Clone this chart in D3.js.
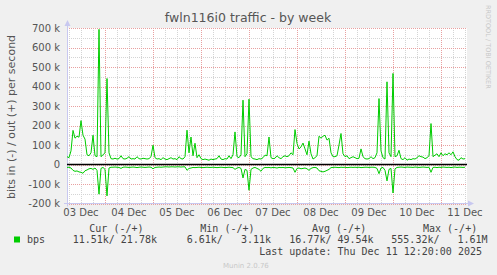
<html>
<script src="https://cdnjs.cloudflare.com/ajax/libs/d3/7.8.5/d3.min.js"></script>
<style>
body { margin: 0; background-color: #f0f0f0; }
text { font-family: "DejaVu Sans", sans-serif; }
.mono { font-family: "DejaVu Sans Mono", monospace; white-space: pre; }
</style>
<body>
<div id="output"></div>
<script>

// hourly samples starting Thu 03 Dec 05:00 (values in k bits/s)
var startHour = Date.UTC(2025, 11, 3, 5);
var outValues = [
  40, 35, 70, 175, 135, 145, 140, 225, 150, 130, 50, 45, 60, 150, 45, 40, 693, 40, 50, 60, 441, 60, 30, 28,
  32, 28, 30, 45, 30, 28, 32, 40, 28, 30, 28, 40, 30, 28, 32, 30, 28, 30, 40, 99, 35, 28, 30, 25,
  35, 28, 25, 30, 35, 28, 30, 25, 40, 30, 28, 40, 176, 60, 141, 45, 109, 35, 50, 30, 25, 28, 25, 22,
  28, 25, 28, 30, 45, 28, 25, 30, 28, 45, 30, 50, 167, 40, 35, 50, 330, 40, 55, 335, 40, 30, 28, 25,
  30, 28, 35, 48, 45, 141, 35, 30, 32, 45, 35, 30, 40, 45, 40, 45, 60, 50, 179, 108, 80, 90, 110, 80,
  50, 120, 55, 28, 35, 45, 145, 135, 145, 150, 125, 135, 60, 40, 40, 45, 100, 159, 55, 40, 45, 30, 35, 40,
  35, 30, 32, 80, 40, 30, 28, 30, 40, 30, 35, 60, 338, 70, 35, 28, 424, 60, 40, 467, 40, 45, 73, 30,
  25, 35, 22, 28, 25, 30, 28, 35, 45, 40, 38, 30, 35, 45, 210, 40, 48, 55, 40, 60, 45, 55, 50, 60,
  50, 65, 40, 25, 22, 35, 28, 30
];
var inValues = [
  15, 14, 18, 30, 35, 33, 38, 40, 45, 32, 28, 22, 20, 25, 18, 30, 152, 20, 15, 25, 161, 18, 14, 14,
  13, 14, 15, 20, 14, 13, 14, 15, 14, 13, 14, 16, 14, 13, 14, 15, 14, 13, 14, 22, 15, 14, 13, 14,
  13, 12, 12, 13, 12, 12, 13, 12, 12, 13, 12, 12, 30, 20, 18, 15, 16, 15, 14, 15, 16, 15, 14, 15,
  15, 14, 15, 16, 15, 14, 15, 16, 15, 14, 15, 16, 25, 18, 15, 20, 69, 25, 30, 132, 25, 18, 15, 20,
  25, 35, 20, 15, 16, 15, 17, 15, 16, 18, 15, 16, 15, 17, 16, 15, 16, 18, 40, 20, 18, 22, 20, 18,
  22, 30, 20, 16, 15, 18, 32, 35, 38, 35, 30, 25, 16, 15, 14, 15, 16, 14, 15, 14, 16, 15, 14, 15,
  14, 15, 14, 16, 15, 14, 14, 15, 14, 14, 15, 20, 47, 18, 15, 30, 84, 25, 20, 146, 22, 15, 14, 13,
  14, 15, 13, 14, 14, 15, 13, 14, 15, 14, 13, 14, 15, 14, 40, 15, 14, 16, 14, 15, 13, 14, 15, 14,
  16, 14, 13, 15, 14, 14, 15, 14
];
var yTicks = [-200, -100, 0, 100, 200, 300, 400, 500, 600, 700];
var dayLabels = ["03 Dec", "04 Dec", "05 Dec", "06 Dec", "07 Dec", "08 Dec", "09 Dec", "10 Dec", "11 Dec"];
var legendHeads = ["Cur (-/+)", "Min (-/+)", "Avg (-/+)", "Max (-/+)"];
var legendValues = ["11.51k/ 21.78k", " 6.61k/   3.11k", "16.77k/ 49.54k", "555.32k/   1.61M"];

var W = 497, H = 275;
var svg = d3.select("#output").append("svg")
    .attr("width", W)
    .attr("height", H);

svg.append("rect").attr("width", W).attr("height", H).attr("fill", "#f0f0f0");

var x = d3.scaleUtc()
  .domain([new Date(startHour), new Date(Date.UTC(2025, 11, 11, 13))])
  .range([67, 467]);
var y = d3.scaleLinear()
  .domain([-200, 700])
  .range([203.5, 28]);

// plot background
svg.append("rect")
  .attr("x", x.range()[0]).attr("y", y(700))
  .attr("width", x.range()[1] - x.range()[0])
  .attr("height", y(-200) - y(700))
  .attr("fill", "#ffffff");

// minor grid
var minorY = d3.range(-200, 701, 50).filter(function(v){ return v % 100 != 0; });
svg.selectAll(".minh").data(minorY).enter().append("line")
  .attr("x1", 67).attr("x2", 467)
  .attr("y1", function(d){ return Math.round(y(d)) + 0.5; })
  .attr("y2", function(d){ return Math.round(y(d)) + 0.5; })
  .attr("stroke", "#d4d4d4").attr("stroke-dasharray", "1,1");
var sixHours = d3.utcHour.every(6).range(x.domain()[0], x.domain()[1]).filter(function(d){ return d.getUTCHours() != 0; });
svg.selectAll(".minv").data(sixHours).enter().append("line")
  .attr("x1", function(d){ return Math.round(x(d)) + 0.5; })
  .attr("x2", function(d){ return Math.round(x(d)) + 0.5; })
  .attr("y1", y(700)).attr("y2", y(-200))
  .attr("stroke", "#d4d4d4").attr("stroke-dasharray", "1,1");

// major grid
svg.selectAll(".majh").data(yTicks).enter().append("line")
  .attr("x1", 67).attr("x2", 467)
  .attr("y1", function(d){ return Math.round(y(d)) + 0.5; })
  .attr("y2", function(d){ return Math.round(y(d)) + 0.5; })
  .attr("stroke", "#e8a0a0").attr("stroke-dasharray", "1,1");
var days = d3.utcDay.range(x.domain()[0], x.domain()[1]);
svg.selectAll(".majv").data(days).enter().append("line")
  .attr("x1", function(d){ return Math.round(x(d)) + 0.5; })
  .attr("x2", function(d){ return Math.round(x(d)) + 0.5; })
  .attr("y1", y(700)).attr("y2", y(-200))
  .attr("stroke", "#e8a0a0").attr("stroke-dasharray", "1,1");

// axes (rrdtool style, lavender with arrows)
svg.append("line").attr("x1", 67.5).attr("x2", 67.5).attr("y1", y(-200) + 3).attr("y2", 22)
  .attr("stroke", "#c8c8f0");
svg.append("path").attr("d", "M64.5,26L67.5,20L70.5,26Z").attr("fill", "#c8c8f0");
svg.append("line").attr("x1", 64).attr("x2", 471).attr("y1", 203.5).attr("y2", 203.5)
  .attr("stroke", "#c8c8f0");
svg.append("path").attr("d", "M468,200.5L474,203.5L468,206.5Z").attr("fill", "#c8c8f0");

// y tick labels
svg.selectAll(".ylab").data(yTicks).enter().append("text")
  .attr("x", 60).attr("y", function(d){ return y(d) + 3.5; })
  .attr("text-anchor", "end")
  .style("font-size", "10px").attr("fill", "#555")
  .text(function(d){ return d == 0 ? "0" : d + " k"; });

// x tick labels at noon of each day
svg.selectAll(".xlab").data(dayLabels).enter().append("text")
  .attr("x", function(d, i){ return x(new Date(Date.UTC(2025, 11, 3 + i, 12))); })
  .attr("y", 215.5)
  .attr("text-anchor", "middle")
  .style("font-size", "10px").attr("fill", "#555")
  .text(function(d){ return d; });

// data lines
var t = function(i){ return new Date(startHour + i * 3600000); };
var outLine = d3.line().x(function(d, i){ return x(t(i)); }).y(function(d){ return y(d); });
var inLine = d3.line().x(function(d, i){ return x(t(i)); }).y(function(d){ return y(-d); });

// zero rule
svg.append("line").attr("x1", 67).attr("x2", 467).attr("y1", y(0)).attr("y2", y(0))
  .attr("stroke", "#000").attr("stroke-width", 1.5);

svg.append("path").datum(outValues).attr("d", outLine)
  .attr("fill", "none").attr("stroke", "#00cc00").attr("stroke-width", 1);
svg.append("path").datum(inValues).attr("d", inLine)
  .attr("fill", "none").attr("stroke", "#00cc00").attr("stroke-width", 1);

// titles
svg.append("text").attr("x", 248).attr("y", 22).attr("text-anchor", "middle")
  .style("font-size", "12.5px").attr("fill", "#555")
  .text("fwln116i0 traffic - by week");
svg.append("text").attr("transform", "translate(14.5,117)rotate(-90)").attr("text-anchor", "middle")
  .style("font-size", "11px").attr("fill", "#555")
  .text("bits in (-) / out (+) per second");
svg.append("text").attr("transform", "translate(485.5,5)rotate(90)").attr("text-anchor", "start")
  .style("font-size", "6.5px").attr("fill", "#c8c8c8")
  .text("RRDTOOL / TOBI OETIKER");

// legend
var headX = [89.3, 200.3, 312, 423];
var valX = [72.7, 180.7, 289.3, 391.3];
svg.selectAll(".lh").data(legendHeads).enter().append("text")
  .attr("class", "mono").attr("x", function(d, i){ return headX[i]; }).attr("y", 231.5)
  .style("font-size", "10px").attr("fill", "#444")
  .text(function(d){ return d; });
svg.append("rect").attr("x", 14).attr("y", 236.5).attr("width", 6).attr("height", 6).attr("fill", "#00cc00");
svg.append("text").attr("class", "mono").attr("x", 27).attr("y", 243)
  .style("font-size", "10px").attr("fill", "#444").text("bps");
svg.selectAll(".lv").data(legendValues).enter().append("text")
  .attr("class", "mono").attr("x", function(d, i){ return valX[i]; }).attr("y", 243)
  .style("font-size", "10px").attr("fill", "#444")
  .text(function(d){ return d; });
svg.append("text").attr("class", "mono").attr("x", 482).attr("y", 254.5).attr("text-anchor", "end")
  .style("font-size", "10px").attr("fill", "#444")
  .text("Last update: Thu Dec 11 12:20:00 2025");
svg.append("text").attr("x", 223).attr("y", 267.5)
  .style("font-size", "7px").attr("fill", "#c8c8c8")
  .text("Munin 2.0.76");

</script>
</body>
</html>
